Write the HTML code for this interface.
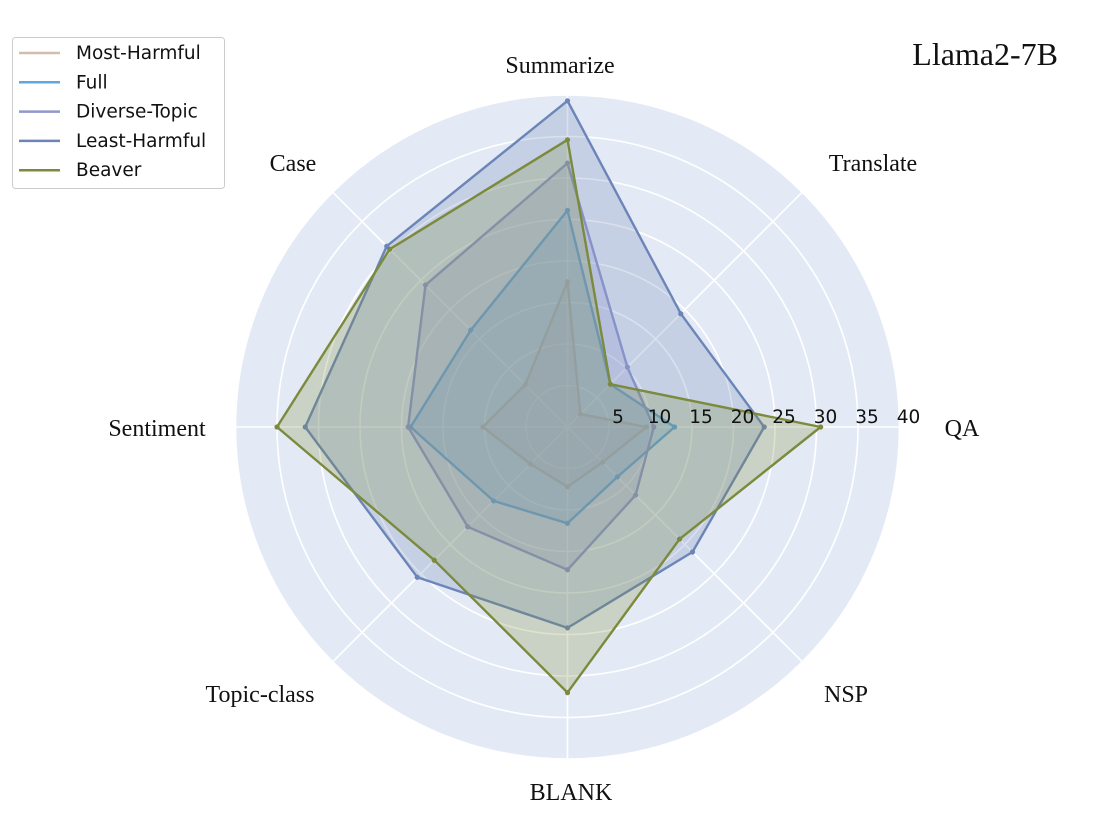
<!DOCTYPE html>
<html><head><meta charset="utf-8"><style>
html,body{margin:0;padding:0;background:#fff;width:1099px;height:834px;overflow:hidden}
</style></head><body>
<svg id="chart" width="1099" height="834" xmlns="http://www.w3.org/2000/svg"></svg>
<script>
const categories = ["QA","Translate","Summarize","Case","Sentiment","Topic-class","BLANK","NSP"];
const seriesNames = ["Most-Harmful","Full","Diverse-Topic","Least-Harmful","Beaver"];
const mostHarmful = [9.5,2.2,17.5,7.2,10.2,6.3,7.2,6];
const full = [12.9,7.3,26.1,16.5,18.9,12.6,11.6,8.5];
const diverseTopic = [10.4,10.2,31.8,24.2,19.2,17,17.2,11.6];
const leastHarmful = [23.7,19.3,39.3,30.8,31.6,25.6,24.2,21.3];
const beaver = [30.5,7.3,34.6,30.3,35,22.7,32,19.1];
const tickLabels = [5,10,15,20,25,30,35,40];
const colors = ["#d6bcae","#5ea7e3","#8f97cf","#6c85b8","#7b8a3c"];
const rMax = 40;

const svg = document.getElementById('chart');
const NS = "http://www.w3.org/2000/svg";
const cx = 567.5, cy = 427, R = 332;
function rScale(v){ return v / rMax * R; }
function angle(i){ return i * Math.PI * 2 / categories.length; }
function pt(i, v){ const a = angle(i), r = rScale(v); return [cx + r*Math.cos(a), cy - r*Math.sin(a)]; }
function mk(tag, attrs, parent){ const e = document.createElementNS(NS, tag); for (const k in attrs) e.setAttribute(k, attrs[k]); (parent||svg).appendChild(e); return e; }

const bg = mk('circle', {cx, cy, r: R, fill: '#e4eaf5'});


tickLabels.forEach(t => {
  const c = mk('circle', {cx, cy, r: rScale(t), fill: 'none', stroke: '#fff', 'stroke-width': 1.6});
  
  
});
categories.forEach((c, i) => {
  const [x, y] = pt(i, rMax);
  const l = mk('line', {x1: cx, y1: cy, x2: x, y2: y, stroke: '#fff', 'stroke-width': 1.6});
  
  
});

const data = [mostHarmful, full, diverseTopic, leastHarmful, beaver];
data.forEach((vals, s) => {
  const pts = vals.map((v, i) => pt(i, v));
  const d = pts.map(p => p[0].toFixed(1) + ',' + p[1].toFixed(1)).join(' ');
  const g = mk('g', {});
  
  
  mk('polygon', {points: d, fill: colors[s], 'fill-opacity': 0.25, stroke: 'none'}, g);
  mk('polygon', {points: d, fill: 'none', stroke: colors[s], 'stroke-width': 2.4, 'stroke-linejoin': 'round'}, g);
  pts.forEach(p => {
    const m = mk('circle', {cx: p[0], cy: p[1], r: 2.6, fill: colors[s]}, g);
    
    
  });
});

tickLabels.forEach(t => {
  const tx = mk('text', {x: cx + rScale(t) + 9, y: cy - 4, 'font-family': 'DejaVu Sans, sans-serif', 'font-size': 18.5, fill: '#111', 'text-anchor': 'middle'});
  tx.textContent = t;
  
  
});

const labelPos = [[962,436],[873,171],[560,73],[293,171],[157,436],[260,702],[571,800],[846,702]];
categories.forEach((c, i) => {
  const t = mk('text', {x: labelPos[i][0], y: labelPos[i][1], 'font-family': 'Liberation Serif, serif', 'font-size': 24, fill: '#111', 'text-anchor': 'middle'});
  t.textContent = c;
  
  
});

const title = mk('text', {x: 1058, y: 65, 'font-family': 'Liberation Serif, serif', 'font-size': 32, fill: '#111', 'text-anchor': 'end'});
title.textContent = 'Llama2-7B';



const lg = mk('g', {});


mk('rect', {x: 12.5, y: 37.5, width: 212, height: 151, rx: 3, fill: '#fff', stroke: '#ccc', 'stroke-width': 1}, lg);
seriesNames.forEach((n, s) => {
  const y = 53 + s * 29.3;
  const e = mk('g', {}, lg);
  
  
  mk('line', {x1: 19, y1: y, x2: 60, y2: y, stroke: colors[s], 'stroke-width': 2.5}, e);
  const t = mk('text', {x: 76, y: y + 6, 'font-family': 'DejaVu Sans, sans-serif', 'font-size': 18.5, fill: '#111'}, e);
  t.textContent = n;
});
</script>
</body></html>
